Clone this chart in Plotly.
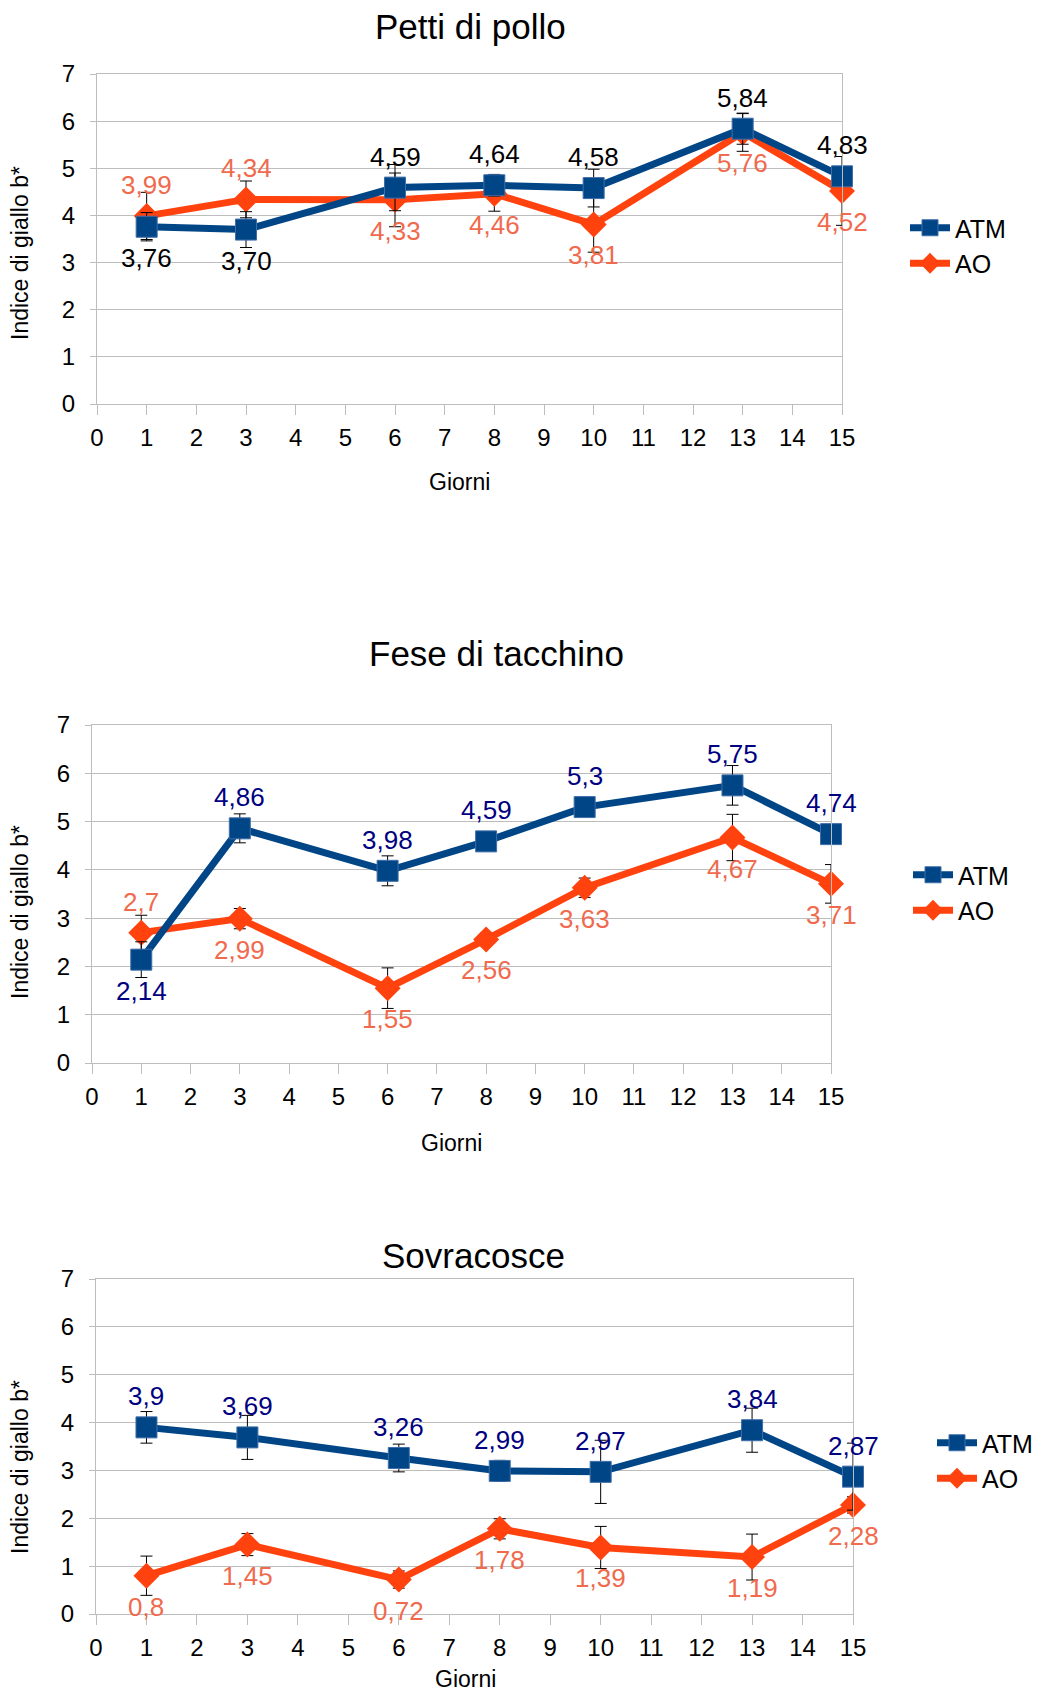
import plotly.graph_objects as go

# ---------------- data ----------------
days = [1, 3, 6, 8, 10, 13, 15]
x_ticks = list(range(0, 16))
y_ticks = list(range(0, 8))

titles = ["Petti di pollo", "Fese di tacchino", "Sovracosce"]
series_names = ["ATM", "AO"]

# Petti di pollo
petti_atm = [3.76, 3.70, 4.59, 4.64, 4.58, 5.84, 4.83]
petti_atm_err = [0.30, 0.38, 0.49, 0.23, 0.40, 0.33, 0.18]
petti_ao = [3.99, 4.34, 4.33, 4.46, 3.81, 5.76, 4.52]
petti_ao_err = [0.50, 0.39, 0.57, 0.37, 0.59, 0.40, 0.73]

# Fese di tacchino
fese_atm = [2.14, 4.86, 3.98, 4.59, 5.3, 5.75, 4.74]
fese_atm_err = [0.37, 0.30, 0.31, 0.16, 0.18, 0.41, 0.06]
fese_ao = [2.7, 2.99, 1.55, 2.56, 3.63, 4.67, 3.71]
fese_ao_err = [0.36, 0.21, 0.42, 0.13, 0.20, 0.48, 0.40]

# Sovracosce
sovra_atm = [3.9, 3.69, 3.26, 2.99, 2.97, 3.84, 2.87]
sovra_atm_err = [0.33, 0.46, 0.29, 0.22, 0.66, 0.46, 0.70]
sovra_ao = [0.8, 1.45, 0.72, 1.78, 1.39, 1.19, 2.28]
sovra_ao_err = [0.41, 0.23, 0.18, 0.21, 0.44, 0.48, 0.17]

# label placement: +1 above the point, -1 below
petti_atm_side = [-1, -1, 1, 1, 1, 1, 1]
petti_ao_side = [1, 1, -1, -1, -1, -1, -1]
fese_atm_side = [-1, 1, 1, 1, 1, 1, 1]
fese_ao_side = [1, -1, -1, -1, -1, -1, -1]
sovra_atm_side = [1, 1, 1, 1, 1, 1, 1]
sovra_ao_side = [-1, -1, -1, -1, -1, -1, -1]

# ---------------- style ----------------
W, H = 1038, 1691
FONT = "Liberation Sans, Arial, sans-serif"
ATM_COLOR = "#004586"
AO_COLOR = "#ff420e"
AO_LABEL = "#f06a4e"
GRID = "#bdbdbd"

# plot areas in pixels: (left, right, top, bottom)
areas = [(97, 842, 74, 404), (92, 831, 725, 1063), (96, 853, 1279, 1614)]
title_pos = [(470, 27), (496, 653), (473, 1255)]
ytitle_pos = [(20, 253), (20, 912), (20, 1467)]
xtitle_pos = [(459, 482), (451, 1143), (465, 1679)]
legend_pos = [(905, 205), (908, 852), (932, 1420)]
atm_label_colors = ["#000000", "#000080", "#000080"]


def fmt(v, fixed):
    s = f"{v:.2f}" if fixed else f"{v:g}"
    return s.replace(".", ",")


charts = [
    (petti_atm, petti_atm_err, petti_ao, petti_ao_err, petti_atm_side, petti_ao_side, True),
    (fese_atm, fese_atm_err, fese_ao, fese_ao_err, fese_atm_side, fese_ao_side, False),
    (sovra_atm, sovra_atm_err, sovra_ao, sovra_ao_err, sovra_atm_side, sovra_ao_side, False),
]

fig = go.Figure()
annotations = []
layout = {}

for i, (atm, atm_e, ao, ao_e, atm_side, ao_side, fixed) in enumerate(charts):
    sfx = "" if i == 0 else str(i + 1)
    xa, ya = "x" + sfx, "y" + sfx
    leg = "legend" + sfx
    l, r, t, b = areas[i]

    fig.add_trace(go.Scatter(
        x=days, y=ao, name=series_names[1], mode="lines+markers",
        xaxis=xa, yaxis=ya, legend=leg, legendrank=2, cliponaxis=False,
        line=dict(color=AO_COLOR, width=7),
        marker=dict(symbol="diamond", size=20, color=AO_COLOR),
        error_y=dict(type="data", array=ao_e, visible=True, color="#000000",
                     thickness=1, width=6),
    ))
    fig.add_trace(go.Scatter(
        x=days, y=atm, name=series_names[0], mode="lines+markers",
        xaxis=xa, yaxis=ya, legend=leg, legendrank=1, cliponaxis=False,
        line=dict(color=ATM_COLOR, width=7),
        marker=dict(symbol="square", size=21, color=ATM_COLOR,
                    line=dict(color="#3f6ea8", width=1)),
        error_y=dict(type="data", array=atm_e, visible=True, color="#000000",
                     thickness=1, width=6),
    ))

    for vals, sides, col in ((atm, atm_side, atm_label_colors[i]), (ao, ao_side, AO_LABEL)):
        for d, v, s in zip(days, vals, sides):
            annotations.append(dict(
                x=d, y=v, xref=xa, yref=ya, text=fmt(v, fixed), showarrow=False,
                xanchor="center", yanchor="middle", yshift=31 * s,
                font=dict(family=FONT, size=26, color=col),
            ))

    axis_common = dict(showline=True, mirror=True, linecolor=GRID, linewidth=1,
                       ticks="outside", tickcolor=GRID, zeroline=False,
                       tickfont=dict(family=FONT, size=24, color="#000000"))
    layout["xaxis" + sfx] = dict(
        domain=[l / W, r / W], anchor=ya, range=[0, 15],
        tickmode="array", tickvals=x_ticks, ticktext=[str(v) for v in x_ticks],
        ticklen=10, showgrid=False, ticklabelstandoff=2, **axis_common)
    layout["yaxis" + sfx] = dict(
        domain=[1 - b / H, 1 - t / H], anchor=xa, range=[0, 7],
        tickmode="array", tickvals=y_ticks, ticktext=[str(v) for v in y_ticks],
        ticklen=6, showgrid=True, gridcolor=GRID, gridwidth=1,
        ticklabelstandoff=10, **axis_common)

    lx, ly = legend_pos[i]
    layout[leg] = dict(x=lx / W, y=1 - ly / H, xanchor="left", yanchor="top",
                       font=dict(family=FONT, size=25, color="#000000"),
                       bgcolor="rgba(0,0,0,0)", traceorder="normal",
                       tracegroupgap=0, itemwidth=40)

    tx, ty = title_pos[i]
    annotations.append(dict(x=tx / W, y=1 - ty / H, xref="paper", yref="paper",
                            text=titles[i], showarrow=False, xanchor="center",
                            yanchor="middle",
                            font=dict(family=FONT, size=35, color="#000000")))
    yx, yy = ytitle_pos[i]
    annotations.append(dict(x=yx / W, y=1 - yy / H, xref="paper", yref="paper",
                            text="Indice di giallo b*", showarrow=False,
                            textangle=-90, xanchor="center", yanchor="middle",
                            font=dict(family=FONT, size=23, color="#000000")))
    gx, gy = xtitle_pos[i]
    annotations.append(dict(x=gx / W, y=1 - gy / H, xref="paper", yref="paper",
                            text="Giorni", showarrow=False, xanchor="center",
                            yanchor="middle",
                            font=dict(family=FONT, size=23, color="#000000")))

fig.update_layout(
    width=W, height=H, margin=dict(l=0, r=0, t=0, b=0, pad=0, autoexpand=False),
    paper_bgcolor="#ffffff", plot_bgcolor="#ffffff",
    font=dict(family=FONT, color="#000000"),
    annotations=annotations, **layout,
)

fig.write_html("out.html", config={"displayModeBar": False},
               post_script="document.body.style.margin='0px';")
